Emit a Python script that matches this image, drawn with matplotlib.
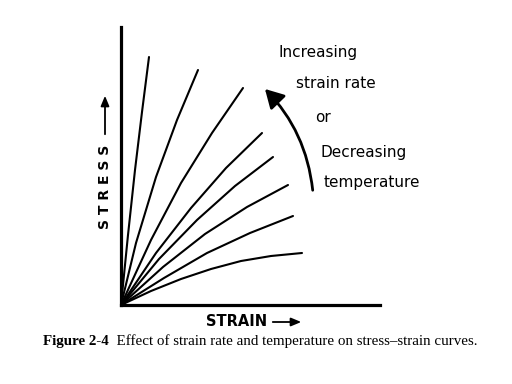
import matplotlib.pyplot as plt
from matplotlib.patches import FancyArrowPatch

# strain / stress points, one list per curve (steepest first)
curve_x = [
    [0, 7, 14, 21, 28],
    [0, 15, 35, 56, 77],
    [0, 30, 60, 91, 122],
    [0, 35, 70, 105, 141],
    [0, 38, 76, 114, 152],
    [0, 42, 84, 126, 167],
    [0, 43, 86, 129, 172],
    [0, 30, 60, 90, 120, 150, 181],
]
curve_y = [
    [0, 70, 135, 193, 248],
    [0, 62, 128, 185, 235],
    [0, 65, 122, 172, 217],
    [0, 52, 97, 137, 172],
    [0, 46, 85, 119, 148],
    [0, 38, 71, 98, 120],
    [0, 27, 52, 72, 89],
    [0, 14, 26, 36, 44, 49, 52],
]

note_lines = ["Increasing", "strain rate", "or", "Decreasing", "temperature"]
note_x = [197, 215, 202, 243, 251]
note_y = [253, 221, 188, 152, 122]

caption_bold = "Figure 2-4"
caption_rest = "  Effect of strain rate and temperature on stress\u2013strain curves."

fig = plt.figure(figsize=(5.12, 3.84), dpi=100)
ax = fig.add_axes([121 / 512, 79 / 384, 259 / 512, 278 / 384])
ax.set_xlim(0, 259)
ax.set_ylim(0, 278)

for xs, ys in zip(curve_x, curve_y):
    ax.plot(xs, ys, color="black", lw=1.5, solid_capstyle="round",
            solid_joinstyle="round")

# axes look: only the two thick spines
for side in ["top", "right"]:
    ax.spines[side].set_visible(False)
for side in ["left", "bottom"]:
    ax.spines[side].set_linewidth(2.3)
ax.set_xticks([])
ax.set_yticks([])
ax.patch.set_alpha(0)

for txt, x, y in zip(note_lines, note_x, note_y):
    ax.text(x, y, txt, ha="center", va="center", fontsize=11,
            clip_on=False)

# curved arrow next to the note
arc = FancyArrowPatch((192, 112), (142, 218), connectionstyle="arc3,rad=0.18",
                      arrowstyle="-|>,head_length=0.8,head_width=0.45",
                      mutation_scale=14, lw=2, color="black", clip_on=False)
ax.add_patch(arc)

# axis labels with their arrows
ax.text(-16, 118, "S T R E S S", rotation=90, ha="center", va="center",
        fontsize=10, fontweight="bold", clip_on=False)
ax.annotate("", xy=(-16, 212), xytext=(-16, 168), annotation_clip=False,
            arrowprops=dict(arrowstyle="-|>,head_length=0.6,head_width=0.25",
                            lw=1.3, color="black", mutation_scale=10))
ax.text(116, -17, "STRAIN", ha="center", va="center", fontsize=10.5,
        fontweight="bold", clip_on=False)
ax.annotate("", xy=(183, -17), xytext=(149, -17), annotation_clip=False,
            arrowprops=dict(arrowstyle="-|>,head_length=0.6,head_width=0.25",
                            lw=1.3, color="black", mutation_scale=10))

# caption, bold part then the rest right after it
r = fig.canvas.get_renderer()
t1 = fig.text(43 / 512, 1 - 341 / 384, caption_bold, ha="left", va="center",
              fontsize=10.8, fontweight="bold", family="Liberation Serif")
bb = t1.get_window_extent(renderer=r)
fig.text(bb.x1 / 512, 1 - 341 / 384, caption_rest, ha="left", va="center",
         fontsize=10.8, family="Liberation Serif")

fig.savefig("out.png", dpi=100)
